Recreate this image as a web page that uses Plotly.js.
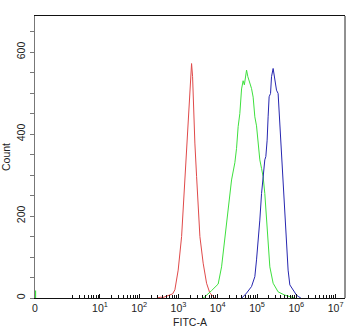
<!DOCTYPE html>
<html>
<head>
<meta charset="utf-8">
<script src="https://cdn.plot.ly/plotly-3.0.1.min.js"></script>
<style>html,body{margin:0;padding:0;background:#fff;}#chart{width:350px;height:331px;}</style>
</head>
<body>
<div id="chart"></div>
<script>
// log10(FITC-A) positions and counts
const redLogFITC = [2.45, 2.55, 2.6, 2.654, 2.7, 2.781, 2.85, 2.908, 2.992, 3.079, 3.145, 3.206, 3.247, 3.290, 3.333, 3.359, 3.374, 3.417, 3.461, 3.501, 3.545, 3.628, 3.715, 3.799, 3.926];
const redCount   = [0, 2, 1, 3, 4, 6, 10, 20, 68, 150, 263, 361, 442, 524, 572, 540, 483, 378, 296, 215, 150, 85, 36, 12, 0];

const greenLogFITC = [3.621, 3.672, 3.842, 4.010, 4.097, 4.181, 4.265, 4.351, 4.435, 4.478, 4.519, 4.562, 4.606, 4.646, 4.677, 4.733, 4.766, 4.817, 4.860, 4.901, 4.944, 4.987, 5.028, 5.071, 5.115, 5.155, 5.198, 5.242, 5.282, 5.326, 5.410, 5.537, 5.707, 5.835, 5.962];
const greenCount   = [0, 3, 18, 34, 76, 150, 215, 288, 330, 365, 418, 450, 510, 530, 520, 556, 540, 524, 511, 490, 442, 420, 378, 337, 316, 296, 255, 190, 133, 76, 36, 15, 7, 3, 0];
const greenZeroBinCount = 18;

const blueLogFITC = [4.613, 4.646, 4.733, 4.860, 4.944, 4.987, 5.028, 5.071, 5.115, 5.155, 5.198, 5.224, 5.257, 5.282, 5.308, 5.344, 5.369, 5.410, 5.453, 5.496, 5.537, 5.562, 5.598, 5.623, 5.664, 5.707, 5.751, 5.791, 5.835, 5.919, 6.005, 6.064, 6.115];
const blueCount   = [0, 3, 12, 28, 52, 93, 134, 190, 255, 296, 337, 345, 385, 442, 491, 499, 540, 560, 532, 507, 499, 459, 402, 345, 288, 215, 133, 68, 32, 20, 7, 3, 0];

const xTickLabels = ['0', '10<sup>1</sup>', '10<sup>2</sup>', '10<sup>3</sup>', '10<sup>4</sup>', '10<sup>5</sup>', '10<sup>6</sup>', '10<sup>7</sup>'];
const xTickDecades = [-0.654, 1, 2, 3, 4, 5, 6, 7];
const yTickVals = [0, 200, 400, 600];

const toLin = a => a.map(v => Math.pow(10, v));
const xMin = -0.654, xMax = 7.24;

const minorVals = [];
for (let d = 0; d <= 6; d++) for (let m = 2; m <= 9; m++) minorVals.push(m * Math.pow(10, d));

const traces = [
  {x: toLin(redLogFITC), y: redCount, mode: 'lines', line: {color: '#e04a4a', width: 1}, showlegend: false},
  {x: toLin(greenLogFITC), y: greenCount, mode: 'lines', line: {color: '#3ee03e', width: 1}, showlegend: false},
  {x: toLin(blueLogFITC), y: blueCount, mode: 'lines', line: {color: '#2626b0', width: 1}, showlegend: false},
  {x: [Math.pow(10, xMin + 0.01), Math.pow(10, xMin + 0.01)], y: [0, greenZeroBinCount], mode: 'lines', line: {color: '#3ee03e', width: 1.5}, showlegend: false}
];

const font = {family: 'Liberation Sans, Arial, sans-serif', size: 10, color: '#222'};

const layout = {
  width: 350, height: 331,
  margin: {l: 35, r: 4.5, t: 16, b: 33, pad: 0},
  paper_bgcolor: '#fff', plot_bgcolor: '#fff',
  font: font,
  showlegend: false,
  xaxis: {
    type: 'log', range: [xMin, xMax],
    showgrid: false, zeroline: false,
    showline: true, linecolor: '#111', linewidth: 1, mirror: true,
    tickmode: 'array', tickvals: xTickDecades.map(v => Math.pow(10, v)), ticktext: xTickLabels,
    ticks: 'inside', ticklen: 4, tickcolor: '#111', tickwidth: 1,
    minor: {tickmode: 'array', tickvals: minorVals, ticks: 'inside', ticklen: 3, tickcolor: '#111', showgrid: false},
    tickfont: {family: font.family, size: 10.5, color: '#222'},
    title: {text: 'FITC-A', font: {family: font.family, size: 10.5, color: '#222'}, standoff: 6}
  },
  yaxis: {
    range: [0, 688],
    showgrid: false, zeroline: false,
    showline: true, linecolor: '#777', linewidth: 1.5,
    tickmode: 'array', tickvals: yTickVals,
    ticks: 'outside', ticklen: 4, tickcolor: '#777', tickwidth: 1,
    minor: {dtick: 50, ticks: 'outside', ticklen: 4, tickcolor: '#777', showgrid: false},
    tickangle: -90,
    tickfont: {family: font.family, size: 10.5, color: '#222'},
    title: {text: 'Count', font: {family: font.family, size: 10.5, color: '#222'}, standoff: 2}
  },
  shapes: [
    {type: 'line', xref: 'paper', yref: 'paper', x0: 1, x1: 1, y0: 0, y1: 1, line: {color: '#222', width: 1}}
  ]
};

Plotly.newPlot('chart', traces, layout, {displayModeBar: false, staticPlot: true});
</script>
</body>
</html>
